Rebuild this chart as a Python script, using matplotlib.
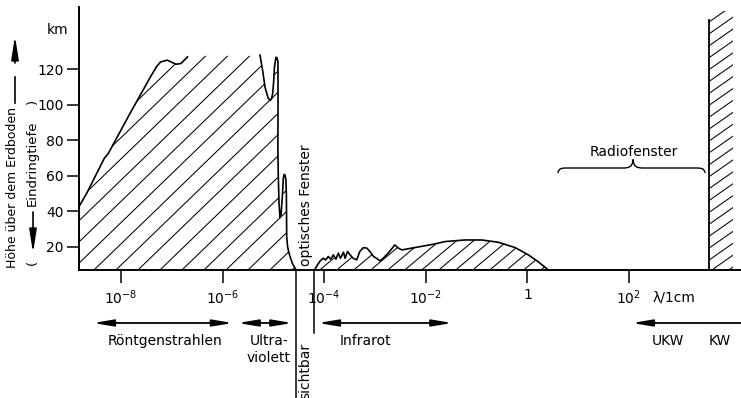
import numpy as np
import matplotlib
matplotlib.use('Agg')
import matplotlib.pyplot as plt
from matplotlib.patches import Polygon, PathPatch
from matplotlib.path import Path
from matplotlib.collections import LineCollection
from matplotlib.transforms import blended_transform_factory, IdentityTransform

plt.rcParams['font.family'] = ['DejaVu Sans']

### Daten: log10(lambda / 1 cm) und Hoehe in km
tick_exp = [-8, -6, -4, -2, 0, 2]
tick_lbl = ['$10^{-8}$', '$10^{-6}$', '$10^{-4}$', '$10^{-2}$', '1', '$10^{2}$']
height_ticks = [20, 40, 60, 80, 100, 120]

# Roentgen-Absorption (ansteigende Kante)
xray_lgl = [-8.83, -8.675, -8.33, -8.25, -7.84, -7.42, -7.30, -7.22, -7.09, -6.92, -6.82, -6.69]
xray_h = [42.5, 50.2, 69.8, 72.6, 94.2, 115.7, 121.5, 124.1, 125.1, 122.8, 123.2, 126.9]

# UV-Kante mit Absorptionsbanden (von oben nach unten)
uv_lgl = [-5.264, -5.21, -5.165, -5.106, -5.067, -5.035, -5.014, -4.995, -4.98, -4.95,
          -4.93, -4.91, -4.909, -4.912, -4.905, -4.89, -4.87, -4.85, -4.825, -4.805,
          -4.79, -4.772, -4.755, -4.745, -4.738, -4.72, -4.693, -4.66, -4.628, -4.555]
uv_h = [127.9, 119.0, 109.9, 104.0, 102.3, 103.5, 106.5, 113.0, 121.1, 126.7,
        126.5, 124.0, 100.0, 75.0, 61.6, 45.0, 36.5, 38.0, 48.0, 58.5,
        60.8, 60.4, 58.0, 50.0, 25.6, 20.0, 16.5, 13.5, 10.8, 7.1]
top_h = 127.5

# Infrarot-Absorption
ir_lgl = [-4.19, -4.14, -4.08, -4.02, -3.97, -3.92, -3.87, -3.82, -3.77, -3.72, -3.68,
          -3.62, -3.59, -3.54, -3.49, -3.43, -3.36, -3.30, -3.23, -3.16, -3.10, -3.03,
          -2.97, -2.90, -2.84, -2.74, -2.66, -2.61, -2.54, -2.47, -2.28, -1.85, -1.62,
          -1.23, -0.90, -0.57, -0.24, 0.02, 0.21, 0.41]
ir_h = [7.1, 9.5, 12.1, 13.6, 12.7, 14.6, 13.1, 15.5, 13.1, 16.5, 13.6,
        17.0, 13.6, 17.4, 15.5, 13.6, 12.7, 17.4, 19.6, 19.3, 17.4, 14.6,
        13.6, 12.1, 13.6, 16.5, 19.3, 21.1, 19.3, 18.3, 19.3, 21.5, 23.0,
        23.9, 23.9, 22.6, 19.6, 15.5, 11.7, 7.1]

# Ionosphaere (Reflexion der Radiowellen)
radio_cut = 3.575
radio_end = 4.05
radio_top = 147.5

# optisches Fenster
opt_window = [-4.555, -4.20]

# Spektralbereiche (Pfeile) in log10 lambda
bands = [('Röntgenstrahlen', -8.55, -5.80, -7.13),
         ('Ultra-\nviolett', -5.70, -4.63, -5.09),
         ('Infrarot', -4.12, -1.48, -3.18)]

xmin, xmax = -8.827, 4.205
ymin, ymax = 7, 155


def hatch(ax, lgl, h, gap, angle, lw=0.75):
    patch = Polygon(np.column_stack([10.0 ** np.asarray(lgl), h]), closed=True,
                    fill=False, edgecolor='none')
    ax.add_patch(patch)
    bb = ax.bbox
    t = np.tan(np.radians(angle))
    H = bb.height + 40
    y0 = bb.y0 - 20
    run = H / t
    starts = np.arange(bb.x0 - run, bb.x1 + gap, gap)
    segs = [[(s, y0), (s + run, y0 + H)] for s in starts]
    lc = LineCollection(segs, colors='k', linewidths=lw, transform=IdentityTransform())
    ax.add_collection(lc, autolim=False)
    lc.set_clip_path(patch)


fig = plt.figure(figsize=(7.41, 3.98), dpi=100)
ax = fig.add_axes([79 / 741, 128 / 398, 662 / 741, 263 / 398])
ax.set_xscale('log')
ax.set_xlim(10 ** xmin, 10 ** xmax)
ax.set_ylim(ymin, ymax)

# Absorptionsgebiete
left_lgl = [xmin] + xray_lgl + uv_lgl
left_h = [ymin] + xray_h[:-1] + [top_h] + [top_h] + uv_h[1:]
hatch(ax, left_lgl, left_h, 22, 44)
ax.plot(10.0 ** np.array(xray_lgl), xray_h, color='k', lw=1.2)
ax.plot(10.0 ** np.array(uv_lgl), uv_h, color='k', lw=1.2)

hatch(ax, ir_lgl, ir_h, 17, 40)
ax.plot(10.0 ** np.array(ir_lgl), ir_h, color='k', lw=1.2)

hatch(ax, [radio_cut, radio_cut, radio_end, radio_end], [ymin, 153, 153, ymin], 17, 35)
ax.plot([10 ** radio_cut] * 2, [ymin, radio_top], color='k', lw=1.3)

# Achsen
for s in ['top', 'right']:
    ax.spines[s].set_visible(False)
for s in ['left', 'bottom']:
    ax.spines[s].set_linewidth(1.4)
ax.set_xticks([10.0 ** e for e in tick_exp])
ax.set_xticklabels(tick_lbl)
ax.xaxis.set_minor_locator(matplotlib.ticker.NullLocator())
ax.set_yticks(height_ticks)
ax.tick_params(axis='both', direction='out', length=9, width=1.1, labelsize=10, pad=2)
ax.tick_params(axis='x', pad=4)

bt = blended_transform_factory(ax.transData, ax.transAxes)

# optisches Fenster
ax.plot([10 ** opt_window[0]] * 2, [0, -0.49], color='k', lw=1.1, transform=bt, clip_on=False)
ax.plot([10 ** opt_window[1]] * 2, [0, -0.24], color='k', lw=1.1, transform=bt, clip_on=False)
ax.text(10 ** -4.36, 0.247, 'optisches Fenster', rotation=90, ha='center', va='center',
        fontsize=10, transform=bt)
ax.text(10 ** -4.38, -0.385, 'sichtbar', rotation=90, ha='center', va='center',
        fontsize=10, transform=bt)

# Pfeile der Spektralbereiche
aprops = dict(arrowstyle='<|-|>,head_length=1.2,head_width=0.2', color='k', lw=1.3,
              shrinkA=0, shrinkB=0, mutation_scale=10)
for name, a, b, c in bands:
    ax.annotate('', xy=(10 ** b, -0.2015), xytext=(10 ** a, -0.2015),
                xycoords=bt, textcoords=bt, arrowprops=aprops, annotation_clip=False)
    ax.text(10 ** c, -0.243, name, ha='center', va='top', fontsize=10,
            linespacing=1.3, transform=bt)

aprops1 = dict(aprops, arrowstyle='-|>,head_length=1.2,head_width=0.2')
ax.annotate('', xy=(10 ** 2.06, -0.2015), xytext=(10 ** xmax, -0.2015),
            xycoords=bt, textcoords=bt, arrowprops=aprops1, annotation_clip=False)
ax.text(10 ** 2.77, -0.243, 'UKW', ha='center', va='top', fontsize=10, transform=bt)
ax.text(10 ** 3.79, -0.243, 'KW', ha='center', va='top', fontsize=10, transform=bt)
ax.text(10 ** 2.89, -0.103, 'λ/1cm', ha='center', va='center', fontsize=10, transform=bt)

# Radiofenster-Klammer
bx0, bxm, bx1 = 0.60, 2.08, 3.50
by0, by1, by2 = 61.6, 64.4, 69.2
d = 0.2
bverts = [(bx0, by0), (bx0 + 0.02, by1), (bx0 + 0.08, by1), (bx0 + d, by1),
          (bxm - d, by1),
          (bxm - 0.08, by1), (bxm - 0.01, by1 + 0.6), (bxm, by2),
          (bxm + 0.01, by1 + 0.6), (bxm + 0.08, by1), (bxm + d, by1),
          (bx1 - d, by1),
          (bx1 - 0.08, by1), (bx1 - 0.02, by1), (bx1, by0)]
bcodes = [Path.MOVETO] + [Path.CURVE4] * 3 + [Path.LINETO] + [Path.CURVE4] * 6 + \
         [Path.LINETO] + [Path.CURVE4] * 3
bverts = [(10 ** x, y) for x, y in bverts]
ax.add_patch(PathPatch(Path(bverts, bcodes), fill=False, lw=1.0, color='k'))
ax.text(10 ** 2.1, 73.4, 'Radiofenster', ha='center', va='center', fontsize=10)

# Beschriftung der Hoehenachse
W, Hh = 741, 398
def fp(x, y):
    return (x / W, 1 - y / Hh)

fig.text(*fp(58, 30), 'km', ha='center', va='center', fontsize=10)
fig.text(*fp(13, 187), 'Höhe über dem Erdboden', rotation=90, ha='center', va='center',
         fontsize=9)
fig.text(*fp(32, 163), 'Eindringtiefe', rotation=90, ha='center', va='center', fontsize=9.5)
fig.text(*fp(32, 101), ')', rotation=90, ha='center', va='center', fontsize=9.5)
fig.text(*fp(32, 262), '(', rotation=90, ha='center', va='center', fontsize=9.5)
varr = dict(arrowstyle='-|>,head_length=1.4,head_width=0.22', color='k', lw=1.2,
            shrinkA=0, shrinkB=0, mutation_scale=10)
fig.add_artist(matplotlib.lines.Line2D([15 / W, 15 / W], [1 - 103 / Hh, 1 - 77 / Hh],
                                       color='k', lw=1.2))
ax.annotate('', xy=fp(15, 36), xytext=fp(15, 63), xycoords='figure fraction',
            textcoords='figure fraction', arrowprops=varr, annotation_clip=False)
ax.annotate('', xy=fp(33, 253), xytext=fp(33, 212), xycoords='figure fraction',
            textcoords='figure fraction', arrowprops=varr, annotation_clip=False)

fig.savefig('out.png', dpi=100)
